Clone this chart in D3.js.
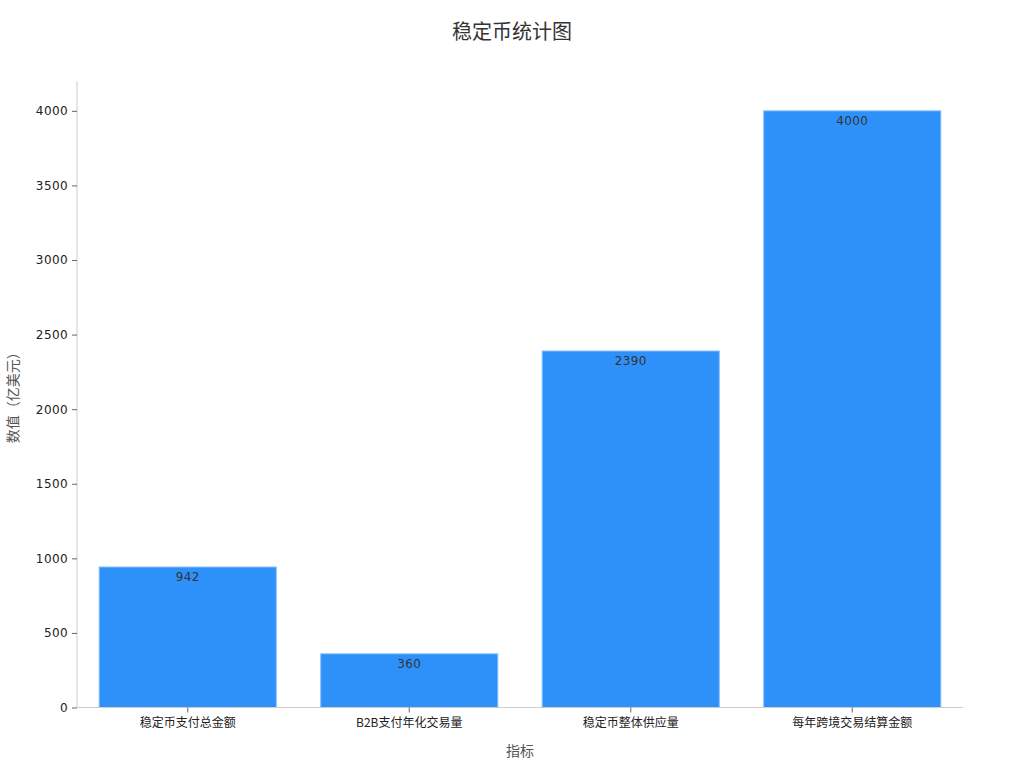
<!DOCTYPE html>
<html>
<head>
<meta charset="utf-8">
<script src="https://cdn.jsdelivr.net/npm/d3@7/dist/d3.min.js"></script>
<style>
  body { margin: 0; background: #fff; }
  text { font-family: "DejaVu Sans", "Noto Sans CJK SC", sans-serif; }
</style>
</head>
<body>
<div id="chart"></div>
<script>
const categories = ["稳定币支付总金额", "B2B支付年化交易量", "稳定币整体供应量", "每年跨境交易结算金额"];
const values = [942, 360, 2390, 4000];
const yTicks = [0, 500, 1000, 1500, 2000, 2500, 3000, 3500, 4000];

const W = 1024, H = 768;
const margin = { top: 81, right: 61, bottom: 60.5, left: 77 };
const width = W - margin.left - margin.right;
const height = H - margin.top - margin.bottom;

const svg = d3.select("#chart")
    .append("svg")
    .attr("width", W)
    .attr("height", H);

svg.append("text")
    .attr("x", W / 2)
    .attr("y", 39)
    .attr("text-anchor", "middle")
    .style("font-size", "20px")
    .style("fill", "#333")
    .text("稳定币统计图");

const g = svg.append("g")
    .attr("transform", `translate(${margin.left},${margin.top})`);

const x = d3.scaleBand()
    .domain(categories)
    .range([0, width])
    .paddingInner(0.2)
    .paddingOuter(0.1);

const y = d3.scaleLinear()
    .domain([0, 4200])
    .range([height, 0]);

// bars
g.selectAll("rect.bar")
    .data(values)
    .enter()
    .append("rect")
    .attr("class", "bar")
    .attr("x", (d, i) => x(categories[i]))
    .attr("y", d => y(d))
    .attr("width", x.bandwidth())
    .attr("height", d => height - y(d))
    .attr("fill", "#2E91FA")
    .attr("stroke", "#8cc2fb")
    .attr("stroke-width", 1);

// value labels
g.selectAll("text.val")
    .data(values)
    .enter()
    .append("text")
    .attr("class", "val")
    .attr("x", (d, i) => x(categories[i]) + x.bandwidth() / 2)
    .attr("y", d => y(d) + 14.5)
    .attr("text-anchor", "middle")
    .style("font-size", "12px")
    .style("fill", "#333")
    .style("letter-spacing", "0.4px")
    .text(d => d);

// y axis
const yAxis = g.append("g")
    .call(d3.axisLeft(y).tickValues(yTicks).tickFormat(d3.format("d")).tickSize(5).tickPadding(4));
yAxis.select(".domain").attr("stroke", "#ccc").attr("d", `M0,${height}V0`);
yAxis.selectAll(".tick line").attr("stroke", "#666");
yAxis.selectAll(".tick text")
    .style("font-size", "12px")
    .style("fill", "#222")
    .style("letter-spacing", "0.4px");

// x axis
const xAxis = g.append("g")
    .attr("transform", `translate(0,${height})`)
    .call(d3.axisBottom(x).tickSize(5).tickPadding(6));
xAxis.select(".domain").attr("stroke", "#ccc").attr("d", `M0,0H${width}`);
xAxis.selectAll(".tick line").attr("stroke", "#666");
xAxis.selectAll(".tick text")
    .style("font-size", "12px")
    .style("fill", "#222")
    .style("font-family", "'Noto Sans CJK SC', sans-serif");

// axis titles
svg.append("text")
    .attr("x", margin.left + width / 2)
    .attr("y", 756)
    .attr("text-anchor", "middle")
    .style("font-size", "14px")
    .style("fill", "#555")
    .style("font-family", "'Noto Sans CJK SC', sans-serif")
    .text("指标");

svg.append("text")
    .attr("transform", `translate(18,${margin.top + height / 2}) rotate(-90)`)
    .attr("text-anchor", "middle")
    .style("font-size", "14px")
    .style("fill", "#555")
    .style("font-family", "'Noto Sans CJK SC', sans-serif")
    .text("数值（亿美元）");
</script>
</body>
</html>
